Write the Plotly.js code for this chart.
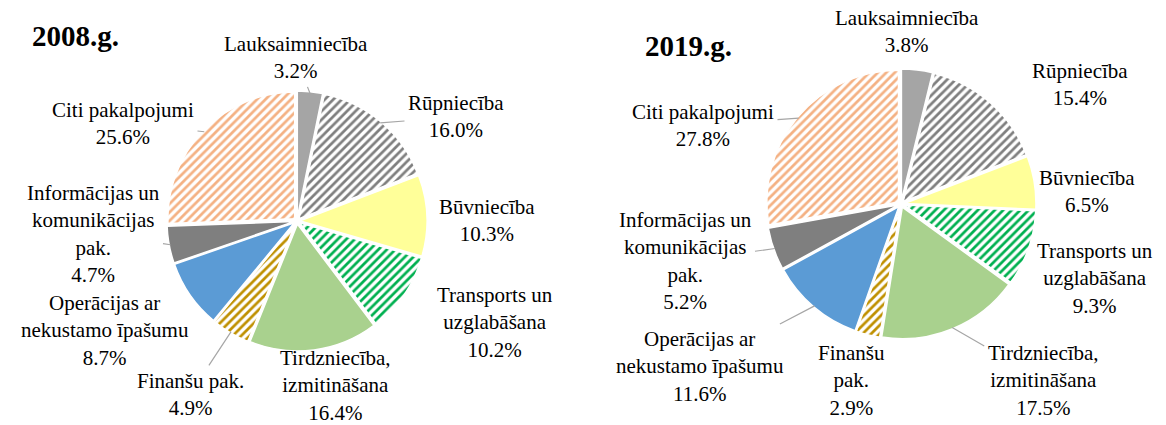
<!DOCTYPE html>
<html>
<head>
<meta charset="utf-8">
<script src="https://cdn.plot.ly/plotly-3.0.1.min.js"></script>
<style>html,body{margin:0;padding:0;background:#fff;}#chart{width:1166px;height:425px;}</style>
</head>
<body>
<div id="chart"></div>
<script>
// ---- data ----
const categories = ['Lauksaimniecība','Rūpniecība','Būvniecība','Transports un uzglabāšana','Tirdzniecība, izmitināšana','Finanšu pak.','Operācijas ar nekustamo īpašumu','Informācijas un komunikācijas pak.','Citi pakalpojumi'];
const values2008 = [3.2, 16.0, 10.3, 10.2, 16.4, 4.9, 8.7, 4.7, 25.6];
const values2019 = [3.8, 15.4, 6.5, 9.3, 17.5, 2.9, 11.6, 5.2, 27.8];
const labelLines2008 = ['Lauksaimniecība','Rūpniecība','Būvniecība','Transports un<br>uzglabāšana','Tirdzniecība,<br>izmitināšana','Finanšu pak.','Operācijas ar<br>nekustamo īpašumu','Informācijas un<br>komunikācijas<br>pak.','Citi pakalpojumi'];
const labelLines2019 = ['Lauksaimniecība','Rūpniecība','Būvniecība','Transports un<br>uzglabāšana','Tirdzniecība,<br>izmitināšana','Finanšu<br>pak.','Operācijas ar<br>nekustamo īpašumu','Informācijas un<br>komunikācijas<br>pak.','Citi pakalpojumi'];
const chartTitles = ['2008.g.', '2019.g.'];

// ---- styles ----
const W = 1166, H = 425;
const colors = ['#A5A5A5','#7F7F7F','#FFFF99','#00B050','#A9D18E','#BF9000','#5B9BD5','#7F7F7F','#F4B183'];
const shapes = ['', '/', '', '/', '', '/', '', '', '/'];
const pull = 0.025;
const font = "'Liberation Serif', 'Times New Roman', Times, serif";
const fs = 21;

// layout positions (pixels) for label blocks and whether a leader line is drawn
const labelPos2008 = [[296,58],[456,117],[487,220],[495,322],[335,385],[190,394],[105,330],[93,234],[123,123]];
const leader2008 = [true,true,false,false,false,true,true,true,true];
const labelPos2019 = [[907,31],[1080,85],[1087,191],[1095,278],[1043,380],[851,380],[700,366],[685,261],[703,125]];
const leader2019 = [false,false,false,false,true,false,true,true,true];

const dom2008 = {x:[0.1432,0.3662], y:[0.1741,0.7859]};
const dom2019 = {x:[0.657,0.8885], y:[0.2024,0.8376]};

function pieTrace(values, dom){
  return {
    type:'pie', values: values, labels: categories, sort:false, direction:'clockwise', rotation:0,
    textinfo:'none', hoverinfo:'label+percent',
    pull: values.map(()=>pull),
    domain: dom,
    marker:{colors: colors, line:{color:'#FFFFFF', width:1.5},
      pattern:{shape: shapes, fgcolor: colors, bgcolor: values.map(()=> '#FFFFFF'), size: 6, solidity: 0.45, fillmode:'replace'}},
  };
}

function annotationsFor(values, dom, lines, pos, leader){
  const total = values.reduce((a,b)=>a+b,0);
  const bw = W*(dom.x[1]-dom.x[0]), bh = H*(dom.y[1]-dom.y[0]);
  const r = Math.min(bw/2, bh/2)/(1+pull);
  const cx = W*(dom.x[0]+dom.x[1])/2;
  const cy = H*(1-dom.y[0]) - bh/2;
  let cum = 0;
  const out = [];
  values.forEach((v,i)=>{
    const th = 2*Math.PI*(cum + v/2)/total;
    cum += v;
    const rr = r*(1+pull)*0.99;
    const tx = cx + rr*Math.sin(th), ty = cy - rr*Math.cos(th);
    const text = lines[i] + '<br>' + v.toFixed(1) + '%';
    const [lx, ly] = pos[i];
    if (leader[i]) {
      out.push({xref:'paper', yref:'paper', x: tx/W, y: 1-ty/H, ax: lx-tx, ay: ly-ty, axref:'pixel', ayref:'pixel',
        text: text, showarrow:true, arrowhead:0, arrowwidth:1.2, arrowcolor:'#A6A6A6', standoff:0, startstandoff:2,
        font:{family:font, size:fs, color:'#000'}, align:'center'});
    } else {
      out.push({xref:'paper', yref:'paper', x: lx/W, y: 1-ly/H, xanchor:'center', yanchor:'middle',
        text: text, showarrow:false, font:{family:font, size:fs, color:'#000'}, align:'center'});
    }
  });
  return out;
}

const annotations = [].concat(
  annotationsFor(values2008, dom2008, labelLines2008, labelPos2008, leader2008),
  annotationsFor(values2019, dom2019, labelLines2019, labelPos2019, leader2019),
  [
    {xref:'paper', yref:'paper', x:75/W, y:1-36/H, xanchor:'center', yanchor:'middle', showarrow:false,
     text:'<b>'+chartTitles[0]+'</b>', font:{family:font, size:29, color:'#000'}},
    {xref:'paper', yref:'paper', x:688/W, y:1-46/H, xanchor:'center', yanchor:'middle', showarrow:false,
     text:'<b>'+chartTitles[1]+'</b>', font:{family:font, size:29, color:'#000'}}
  ]
);

const layout = {
  width: W, height: H, margin:{l:0,r:0,t:0,b:0}, showlegend:false,
  paper_bgcolor:'#FFFFFF', plot_bgcolor:'#FFFFFF',
  font:{family:font, size:fs, color:'#000'},
  annotations: annotations
};

Plotly.newPlot('chart', [pieTrace(values2008, dom2008), pieTrace(values2019, dom2019)], layout, {staticPlot:true, displayModeBar:false});
</script>
</body>
</html>
